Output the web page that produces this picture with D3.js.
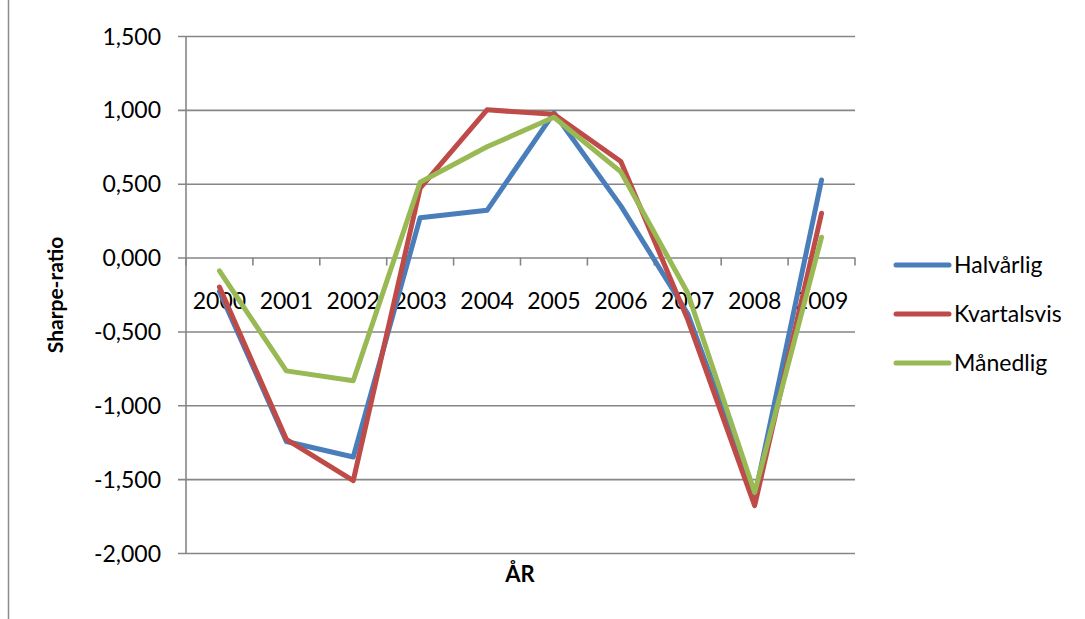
<!DOCTYPE html>
<html lang="no">
<head>
<meta charset="UTF-8">
<title>Sharpe-ratio</title>
<script src="https://cdn.jsdelivr.net/npm/d3@7"></script>
<style>
    body { margin: 0; background: #fff; }
    text { font-family: Lato, "Open Sans", sans-serif; fill: #000; }
</style>
</head>
<body>
<svg id="chart" width="1085" height="619"></svg>
<script>
    // data
    let years = ["2000", "2001", "2002", "2003", "2004", "2005", "2006", "2007", "2008", "2009"]
    let halvarlig = [-0.23, -1.245, -1.35, 0.27, 0.32, 0.98, 0.35, -0.38, -1.62, 0.525]
    let kvartalsvis = [-0.2, -1.23, -1.51, 0.47, 1.0, 0.97, 0.65, -0.42, -1.68, 0.30]
    let manedlig = [-0.09, -0.767, -0.834, 0.51, 0.75, 0.95, 0.58, -0.24, -1.59, 0.138]
    let yTicks = [-2, -1.5, -1, -0.5, 0, 0.5, 1, 1.5]

    let series = [
        {name: "Halvårlig", values: halvarlig, color: "#4a7ebb"},
        {name: "Kvartalsvis", values: kvartalsvis, color: "#be4b48"},
        {name: "Månedlig", values: manedlig, color: "#98b954"}
    ]

    let svg = d3.select("#chart")
    let plotLeft = 186, plotRight = 855, plotTop = 36, plotBottom = 553
    let gridColor = "#868686"

    let x = d3.scaleBand().domain(years).range([plotLeft, plotRight]).padding(0)
    let y = d3.scaleLinear().domain([-2, 1.5]).range([plotBottom, plotTop])
    let fmt = d3.formatLocale({decimal: ",", thousands: " ", grouping: [3], currency: ["", ""], minus: "-"}).format(".3f")

    // chart frame edge on the left
    svg.append("line").attr("x1", 8.5).attr("x2", 8.5).attr("y1", 0).attr("y2", 619)
        .attr("stroke", "#8c8c8c").attr("stroke-width", 1.5)

    // y axis + gridlines
    let yAxis = svg.append("g")
        .attr("transform", `translate(${plotLeft},0)`)
        .call(d3.axisLeft(y).tickValues(yTicks).tickSize(-(plotRight - plotLeft)).tickFormat(fmt).tickPadding(25))
    yAxis.select(".domain").remove()
    yAxis.selectAll(".tick line").attr("x1", -8).attr("stroke", gridColor).attr("stroke-width", 1.6)
    yAxis.selectAll(".tick text").style("font-size", "23px").attr("dy", "0.35em")
    svg.append("line").attr("x1", plotLeft).attr("x2", plotLeft).attr("y1", plotTop).attr("y2", plotBottom)
        .attr("stroke", gridColor).attr("stroke-width", 1.6)

    // x axis on the zero line, ticks between the categories
    let xAxis = svg.append("g")
        .attr("transform", `translate(0,${y(0)})`)
        .call(d3.axisBottom(x).tickSize(0).tickPadding(0))
    xAxis.select(".domain").remove()
    xAxis.selectAll(".tick text").style("font-size", "23px").attr("y", 51).attr("dy", 0)
    let bounds = years.map(d => x(d)).concat([x.range()[1]])
    xAxis.selectAll(".bound").data(bounds).join("line")
        .attr("class", "bound")
        .attr("x1", d => d).attr("x2", d => d).attr("y1", 0).attr("y2", 8)
        .attr("stroke", gridColor).attr("stroke-width", 1.6)

    // lines
    let line = d3.line()
        .x((d, i) => x(years[i]) + x.bandwidth() / 2)
        .y(d => y(d))
    svg.selectAll(".series").data(series).join("path")
        .attr("class", "series")
        .attr("d", d => line(d.values))
        .attr("fill", "none")
        .attr("stroke", d => d.color)
        .attr("stroke-width", 5)
        .attr("stroke-linejoin", "round")
        .attr("stroke-linecap", "round")

    // axis titles
    svg.append("text")
        .attr("transform", "translate(63,295) rotate(-90)")
        .attr("text-anchor", "middle")
        .style("font-size", "21px").style("font-weight", "bold")
        .text("Sharpe-ratio")
    svg.append("text")
        .attr("x", 520).attr("y", 582)
        .attr("text-anchor", "middle")
        .style("font-size", "22px").style("font-weight", "bold")
        .text("ÅR")

    // legend
    let legend = svg.append("g")
    series.forEach(function (s, i) {
        let ly = 265 + i * 49
        legend.append("line").attr("x1", 896).attr("x2", 949).attr("y1", ly).attr("y2", ly)
            .attr("stroke", s.color).attr("stroke-width", 5).attr("stroke-linecap", "round")
        legend.append("text").attr("x", 954).attr("y", ly).attr("dy", "0.35em")
            .style("font-size", "23px").text(s.name)
    })
</script>
</body>
</html>
